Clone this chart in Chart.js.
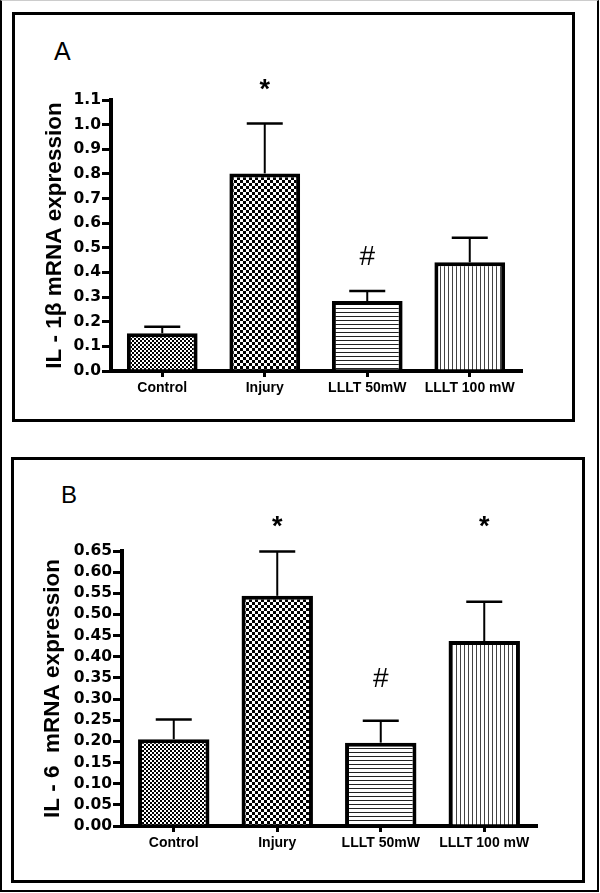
<!DOCTYPE html>
<html lang="en">
  <head>
    <meta charset="UTF-8" />
    <title>IL-1β and IL-6 mRNA expression</title>
    <script src="https://cdn.jsdelivr.net/npm/chart.js@4.4.0/dist/chart.umd.min.js"></script>
    <style>
      body {
        margin: 0;
        background: #fff;
      }
      #page {
        position: relative;
        width: 600px;
        height: 893px;
        overflow: hidden;
      }
      .frame {
        position: absolute;
        left: 0;
        top: 0;
        width: 599px;
        height: 892px;
        box-sizing: border-box;
        border: 2px solid #000;
        border-top: 1px solid #ccc;
      }
      .box {
        position: absolute;
        box-sizing: border-box;
        border: 3px solid #000;
      }
      #boxA { left: 12px; top: 12px; width: 563px; height: 410px; }
      #boxB { left: 11px; top: 457px; width: 574px; height: 426px; }
      .panel {
        position: absolute;
        font-family: "Liberation Sans", Arial, sans-serif;
        color: #000;
      }
      #labelA { left: 54px; top: 39px; font-size: 25px; line-height: 25px; }
      #labelB { left: 61px; top: 483px; font-size: 24px; line-height: 24px; }
      canvas { position: absolute; left: 0; }
      #chartA { top: 0; }
      #chartB { top: 440px; }
    </style>
  </head>
  <body>
    <div id="page">
      <div class="frame"></div>
      <div class="box" id="boxA"></div>
      <div class="box" id="boxB"></div>
      <div class="panel" id="labelA">A</div>
      <div class="panel" id="labelB">B</div>
      <canvas id="chartA" width="600" height="440"></canvas>
      <canvas id="chartB" width="600" height="453"></canvas>
    </div>

    <script>
      // groups on the x axis
      const categories = ["Control", "Injury", "LLLT 50mW", "LLLT 100 mW"];

      // panel A: IL-1β
      const il1bMeans = [0.153, 0.802, 0.284, 0.441];
      const il1bErrors = [0.027, 0.203, 0.041, 0.100];
      const il1bTicks = [0, 0.1, 0.2, 0.3, 0.4, 0.5, 0.6, 0.7, 0.8, 0.9, 1.0, 1.1];
      const il1bMarks = ["", "*", "#", ""];
      const il1bMarkAt = [0, 1.171, 0.47, 0];

      // panel B: IL-6
      const il6Means = [0.205, 0.544, 0.197, 0.437];
      const il6Errors = [0.047, 0.105, 0.052, 0.093];
      const il6Ticks = [0, 0.05, 0.1, 0.15, 0.2, 0.25, 0.3, 0.35, 0.4, 0.45, 0.5, 0.55, 0.6, 0.65];
      const il6Marks = ["", "*", "#", "*"];
      const il6MarkAt = [0, 0.725, 0.352, 0.725];

      // fill patterns like the original figure
      function makePattern(kind) {
        const c = document.createElement("canvas");
        const g = c.getContext("2d");
        if (kind === "fineCheck" || kind === "coarseCheck") {
          const s = kind === "fineCheck" ? 2 : 3;
          c.width = c.height = s * 2;
          g.fillStyle = "#fff";
          g.fillRect(0, 0, s * 2, s * 2);
          g.fillStyle = "#000";
          g.fillRect(0, 0, s, s);
          g.fillRect(s, s, s, s);
        } else if (kind === "hLines") {
          c.width = 4; c.height = 4;
          g.fillStyle = "#fff";
          g.fillRect(0, 0, 4, 4);
          g.fillStyle = "#222";
          g.fillRect(0, 0, 4, 1);
        } else {
          c.width = 4; c.height = 4;
          g.fillStyle = "#fff";
          g.fillRect(0, 0, 4, 4);
          g.fillStyle = "#444";
          g.fillRect(0, 0, 1, 4);
        }
        return g.createPattern(c, "repeat");
      }

      const fills = [
        makePattern("fineCheck"),
        makePattern("coarseCheck"),
        makePattern("hLines"),
        makePattern("vLines"),
      ];

      // draws upper error bars and the * / # marks
      const errorBarPlugin = {
        id: "errorBars",
        afterDatasetsDraw(chart, args, opts) {
          const ctx = chart.ctx;
          const yScale = chart.scales.y;
          const meta = chart.getDatasetMeta(0);
          const means = chart.data.datasets[0].data;
          ctx.save();
          ctx.strokeStyle = "#000";
          meta.data.forEach((bar, i) => {
            const yTop = yScale.getPixelForValue(means[i]);
            const yEnd = yScale.getPixelForValue(means[i] + opts.errors[i]);
            ctx.lineWidth = 2;
            ctx.beginPath();
            ctx.moveTo(bar.x, yTop);
            ctx.lineTo(bar.x, yEnd);
            ctx.stroke();
            ctx.lineWidth = 2.5;
            ctx.beginPath();
            ctx.moveTo(bar.x - 18, yEnd);
            ctx.lineTo(bar.x + 18, yEnd);
            ctx.stroke();

            const mark = opts.marks[i];
            if (mark) {
              const cy = yScale.getPixelForValue(opts.markAt[i]);
              ctx.fillStyle = "#000";
              ctx.textAlign = "center";
              ctx.textBaseline = "alphabetic";
              if (mark === "*") {
                ctx.font = "bold 27px 'Liberation Sans', Arial, sans-serif";
                ctx.fillText(mark, bar.x, cy + 0.58 * 27);
              } else {
                ctx.font = "28px 'Liberation Sans', Arial, sans-serif";
                ctx.fillText(mark, bar.x, cy + 0.35 * 28);
              }
            }
          });
          ctx.restore();
        },
      };

      function createBarChart(id, means, errors, ticks, digits, title, marks, markAt, pad, yWidth) {
        const ctx = document.getElementById(id).getContext("2d");
        return new Chart(ctx, {
          type: "bar",
          data: {
            labels: categories,
            datasets: [
              {
                data: means,
                backgroundColor: fills,
                borderColor: "#000",
                borderWidth: 4,
                barPercentage: 0.69,
                categoryPercentage: 1,
              },
            ],
          },
          options: {
            responsive: false,
            animation: false,
            devicePixelRatio: 1,
            layout: { padding: pad },
            plugins: {
              legend: { display: false },
              tooltip: { enabled: false },
              errorBars: { errors: errors, marks: marks, markAt: markAt },
            },
            scales: {
              x: {
                afterFit: (s) => { s.height = 50; },
                ticks: {
                  color: "#000",
                  font: { family: "'Liberation Sans', Arial, sans-serif", weight: "bold", size: 14 },
                  padding: 3,
                  maxRotation: 0,
                  autoSkip: false,
                },
                grid: {
                  display: true,
                  drawOnChartArea: false,
                  drawTicks: true,
                  tickLength: 6,
                  lineWidth: 3,
                  color: "#000",
                  offset: false,
                },
                border: { display: true, width: 4, color: "#000" },
              },
              y: {
                min: 0,
                max: ticks[ticks.length - 1],
                afterBuildTicks: (s) => { s.ticks = ticks.map((v) => ({ value: v })); },
                afterFit: (s) => { s.width = yWidth; },
                ticks: {
                  color: "#000",
                  font: { family: "'DejaVu Sans', sans-serif", weight: "bold", size: 15.5 },
                  padding: 1,
                  autoSkip: false,
                  callback: (v) => Number(v).toFixed(digits),
                },
                grid: {
                  display: true,
                  drawOnChartArea: false,
                  drawTicks: true,
                  tickLength: 9,
                  lineWidth: 3,
                  color: "#000",
                },
                border: { display: true, width: 4, color: "#000" },
                title: {
                  display: true,
                  text: title,
                  color: "#000",
                  font: { family: "'Liberation Sans', Arial, sans-serif", weight: "bold", size: 22.5 },
                  padding: 0,
                },
              },
            },
          },
          plugins: [errorBarPlugin],
        });
      }

      function init() {
        createBarChart(
          "chartA", il1bMeans, il1bErrors, il1bTicks, 1,
          "IL - 1β mRNA expression", il1bMarks, il1bMarkAt,
          { left: 41, top: 100, right: 79, bottom: 19 }, 70
        );
        createBarChart(
          "chartB", il6Means, il6Errors, il6Ticks, 2,
          "IL - 6  mRNA expression", il6Marks, il6MarkAt,
          { left: 39, top: 111, right: 64, bottom: 17 }, 83
        );
      }

      window.onload = init;
    </script>
  </body>
</html>
